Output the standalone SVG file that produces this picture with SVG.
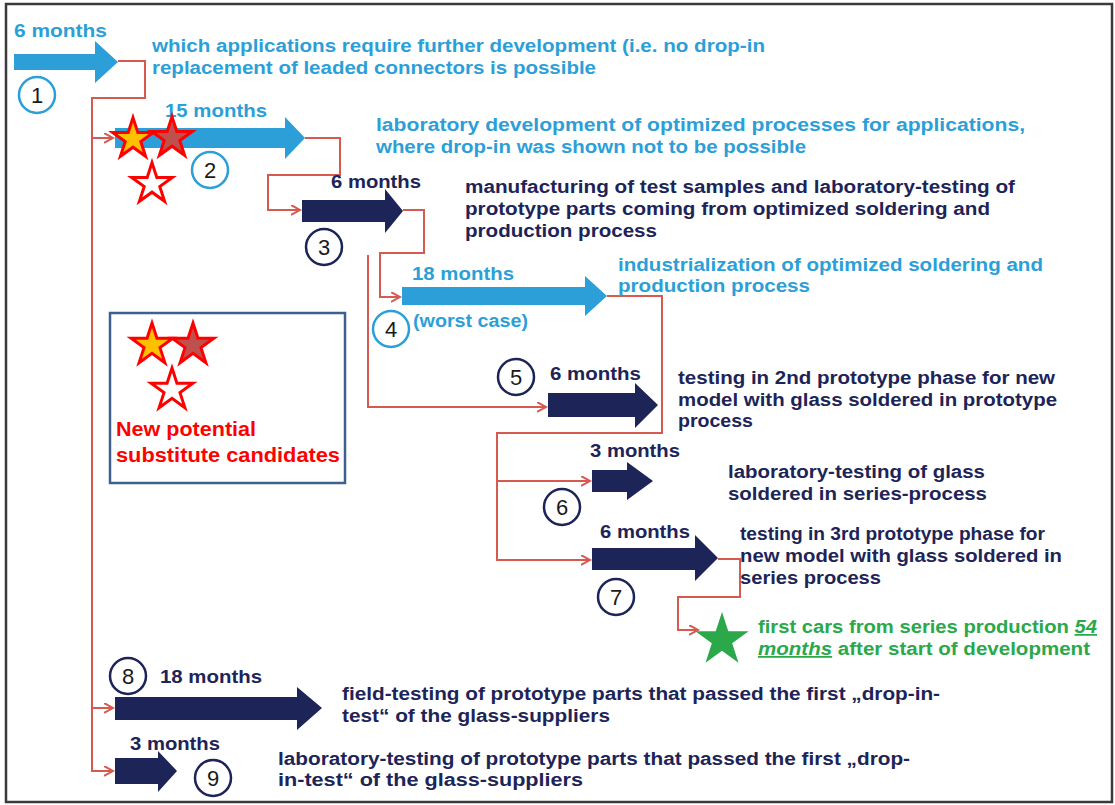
<svg xmlns="http://www.w3.org/2000/svg" width="1115" height="805" viewBox="0 0 1115 805">
<style>
.t{font-family:"Liberation Sans",Arial,sans-serif;font-weight:bold;font-size:17.5px}
.lb{fill:#2c9fd8}
.nv{fill:#1d2457}
.gr{fill:#2aa84a}
.num{font-family:"Liberation Sans",Arial,sans-serif;font-size:22px;fill:#1a1a1a;text-anchor:middle}
.cb{fill:#fff;stroke:#2c9fd8;stroke-width:2.5}
.cn{fill:#fff;stroke:#1d2457;stroke-width:2.5}
.con{fill:none;stroke:#d65a50;stroke-width:2}
.red{font-family:"Liberation Sans",Arial,sans-serif;font-weight:bold;font-size:20px;fill:#ff0000}
</style>
<defs>
<marker id="ah" markerUnits="userSpaceOnUse" markerWidth="12" markerHeight="12" refX="9" refY="5" orient="auto">
<path d="M0,0 L9,5 L0,10" fill="none" stroke="#d65a50" stroke-width="2"/>
</marker>
<polygon id="star" points="0,-20 4.49,-6.18 19.02,-6.18 7.26,2.36 11.76,16.18 0,7.64 -11.76,16.18 -7.26,2.36 -19.02,-6.18 -4.49,-6.18"/>
</defs>
<rect x="6" y="4" width="1106" height="798" fill="#fff" stroke="#3a3a3a" stroke-width="2.5"/>

<g id="connectors">
<path class="con" d="M118,61 H145 V98 H92 V138 H113" marker-end="url(#ah)"/>
<path class="con" d="M92,138 V771 H113" marker-end="url(#ah)"/>
<path class="con" d="M92,708 H113" marker-end="url(#ah)"/>
<path class="con" d="M305,138 H340 V175 H268 V210 H300" marker-end="url(#ah)"/>
<path class="con" d="M403,210 H424 V253 H380 V297 H400" marker-end="url(#ah)"/>
<path class="con" d="M368,255 V407 H546" marker-end="url(#ah)"/>
<path class="con" d="M607,296 H662 V433 H497 V560 H590" marker-end="url(#ah)"/>
<path class="con" d="M497,481 H590" marker-end="url(#ah)"/>
<path class="con" d="M718,559 H740 V597 H678 V630 H698" marker-end="url(#ah)"/>
</g>

<g id="step1">
<polygon class="lb" points="14,54 95,54 95,41 118,62 95,83 95,70 14,70"/>
<text class="t lb" x="14" y="37" textLength="93" lengthAdjust="spacingAndGlyphs">6 months</text>
<circle class="cb" cx="37" cy="95" r="18"/>
<text class="num" x="37" y="103">1</text>
<text class="t lb" x="152" y="52" textLength="613" lengthAdjust="spacingAndGlyphs">which applications require further development (i.e. no drop-in</text>
<text class="t lb" x="152" y="74" textLength="444" lengthAdjust="spacingAndGlyphs">replacement of leaded connectors is possible</text>
</g>

<g id="step2">
<polygon class="lb" points="115,128 285,128 285,117 305,138 285,159 285,148 115,148"/>
<text class="t lb" x="165" y="117" textLength="102" lengthAdjust="spacingAndGlyphs">15 months</text>
<circle class="cb" cx="210" cy="170" r="18"/>
<text class="num" x="210" y="178">2</text>
<text class="t lb" x="376" y="131" textLength="649" lengthAdjust="spacingAndGlyphs">laboratory development of optimized processes for applications,</text>
<text class="t lb" x="376" y="153" textLength="430" lengthAdjust="spacingAndGlyphs">where drop-in was shown not to be possible</text>
<use href="#star" transform="translate(133,139) scale(1.07)" fill="#ffc000" stroke="#ff0000" stroke-width="2.8"/>
<use href="#star" transform="translate(172,138) scale(1.07)" fill="#c0504d" stroke="#ff0000" stroke-width="2.8"/>
<use href="#star" transform="translate(152,184) scale(1.07)" fill="#ffffff" stroke="#ff0000" stroke-width="2.8"/>
</g>

<g id="step3">
<polygon class="nv" points="302,200 385,200 385,189 403,211 385,233 385,222 302,222"/>
<text class="t nv" x="331" y="188" textLength="90" lengthAdjust="spacingAndGlyphs">6 months</text>
<circle class="cn" cx="324" cy="247" r="18"/>
<text class="num" x="324" y="255">3</text>
<text class="t nv" x="465" y="193" textLength="550" lengthAdjust="spacingAndGlyphs">manufacturing of test samples and laboratory-testing of</text>
<text class="t nv" x="465" y="215" textLength="525" lengthAdjust="spacingAndGlyphs">prototype parts coming from optimized soldering and</text>
<text class="t nv" x="465" y="237" textLength="192" lengthAdjust="spacingAndGlyphs">production process</text>
</g>

<g id="step4">
<polygon class="lb" points="402,287 585,287 585,276 607,296 585,316 585,305 402,305"/>
<text class="t lb" x="412" y="280" textLength="102" lengthAdjust="spacingAndGlyphs">18 months</text>
<text class="t lb" x="413" y="327" textLength="115" lengthAdjust="spacingAndGlyphs">(worst case)</text>
<circle class="cb" cx="391" cy="329" r="18"/>
<text class="num" x="391" y="337">4</text>
<text class="t lb" x="618" y="271" textLength="425" lengthAdjust="spacingAndGlyphs">industrialization of optimized soldering and</text>
<text class="t lb" x="618" y="292" textLength="192" lengthAdjust="spacingAndGlyphs">production process</text>
</g>

<g id="step5">
<polygon class="nv" points="548,393 635,393 635,383 658,405 635,428 635,417 548,417"/>
<text class="t nv" x="550" y="380" textLength="91" lengthAdjust="spacingAndGlyphs">6 months</text>
<circle class="cn" cx="516" cy="377" r="18"/>
<text class="num" x="516" y="385">5</text>
<text class="t nv" x="678" y="384" textLength="377" lengthAdjust="spacingAndGlyphs">testing in 2nd prototype phase for new</text>
<text class="t nv" x="678" y="406" textLength="379" lengthAdjust="spacingAndGlyphs">model with glass soldered in prototype</text>
<text class="t nv" x="678" y="427" textLength="75" lengthAdjust="spacingAndGlyphs">process</text>
</g>

<g id="step6">
<polygon class="nv" points="592,470 627,470 627,462 653,481 627,500 627,492 592,492"/>
<text class="t nv" x="590" y="457" textLength="90" lengthAdjust="spacingAndGlyphs">3 months</text>
<circle class="cn" cx="562" cy="507" r="18"/>
<text class="num" x="562" y="515">6</text>
<text class="t nv" x="728" y="478" textLength="257" lengthAdjust="spacingAndGlyphs">laboratory-testing of glass</text>
<text class="t nv" x="728" y="500" textLength="259" lengthAdjust="spacingAndGlyphs">soldered in series-process</text>
</g>

<g id="step7">
<polygon class="nv" points="592,548 695,548 695,535 718,558 695,581 695,570 592,570"/>
<text class="t nv" x="600" y="538" textLength="90" lengthAdjust="spacingAndGlyphs">6 months</text>
<circle class="cn" cx="616" cy="597" r="18"/>
<text class="num" x="616" y="605">7</text>
<text class="t nv" x="740" y="540" textLength="305" lengthAdjust="spacingAndGlyphs">testing in 3rd prototype phase for</text>
<text class="t nv" x="740" y="562" textLength="322" lengthAdjust="spacingAndGlyphs">new model with glass soldered in</text>
<text class="t nv" x="740" y="584" textLength="141" lengthAdjust="spacingAndGlyphs">series process</text>
</g>

<g id="milestone">
<use href="#star" transform="translate(722,640) scale(1.4)" fill="#2aa84a"/>
<text class="t gr" x="758" y="633" textLength="339" lengthAdjust="spacingAndGlyphs">first cars from series production <tspan font-style="italic" text-decoration="underline">54</tspan></text>
<text class="t gr" x="758" y="655" textLength="332" lengthAdjust="spacingAndGlyphs"><tspan font-style="italic" text-decoration="underline">months</tspan> after start of development</text>
</g>

<g id="step8">
<polygon class="nv" points="115,697 297,697 297,687 322,708 297,730 297,720 115,720"/>
<text class="t nv" x="160" y="683" textLength="102" lengthAdjust="spacingAndGlyphs">18 months</text>
<circle class="cn" cx="128" cy="676" r="18"/>
<text class="num" x="128" y="684">8</text>
<text class="t nv" x="342" y="700" textLength="598" lengthAdjust="spacingAndGlyphs">field-testing of prototype parts that passed the first „drop-in-</text>
<text class="t nv" x="342" y="722" textLength="268" lengthAdjust="spacingAndGlyphs">test“ of the glass-suppliers</text>
</g>

<g id="step9">
<polygon class="nv" points="115,758 158,758 158,751 177,771 158,792 158,784 115,784"/>
<text class="t nv" x="130" y="750" textLength="90" lengthAdjust="spacingAndGlyphs">3 months</text>
<circle class="cn" cx="213" cy="778" r="18"/>
<text class="num" x="213" y="786">9</text>
<text class="t nv" x="278" y="765" textLength="632" lengthAdjust="spacingAndGlyphs">laboratory-testing of prototype parts that passed the first „drop-</text>
<text class="t nv" x="278" y="786" textLength="305" lengthAdjust="spacingAndGlyphs">in-test“ of the glass-suppliers</text>
</g>

<g id="legend">
<rect x="110" y="313" width="235" height="170" fill="#fff" stroke="#3d6090" stroke-width="2.5"/>
<use href="#star" transform="translate(152,345) scale(1.1)" fill="#ffc000" stroke="#ff0000" stroke-width="2.7"/>
<use href="#star" transform="translate(193,345) scale(1.1)" fill="#c0504d" stroke="#ff0000" stroke-width="2.7"/>
<use href="#star" transform="translate(172,390) scale(1.1)" fill="#ffffff" stroke="#ff0000" stroke-width="2.7"/>
<text class="red" x="116" y="436" textLength="140" lengthAdjust="spacingAndGlyphs">New potential</text>
<text class="red" x="116" y="462" textLength="224" lengthAdjust="spacingAndGlyphs">substitute candidates</text>
</g>
</svg>
